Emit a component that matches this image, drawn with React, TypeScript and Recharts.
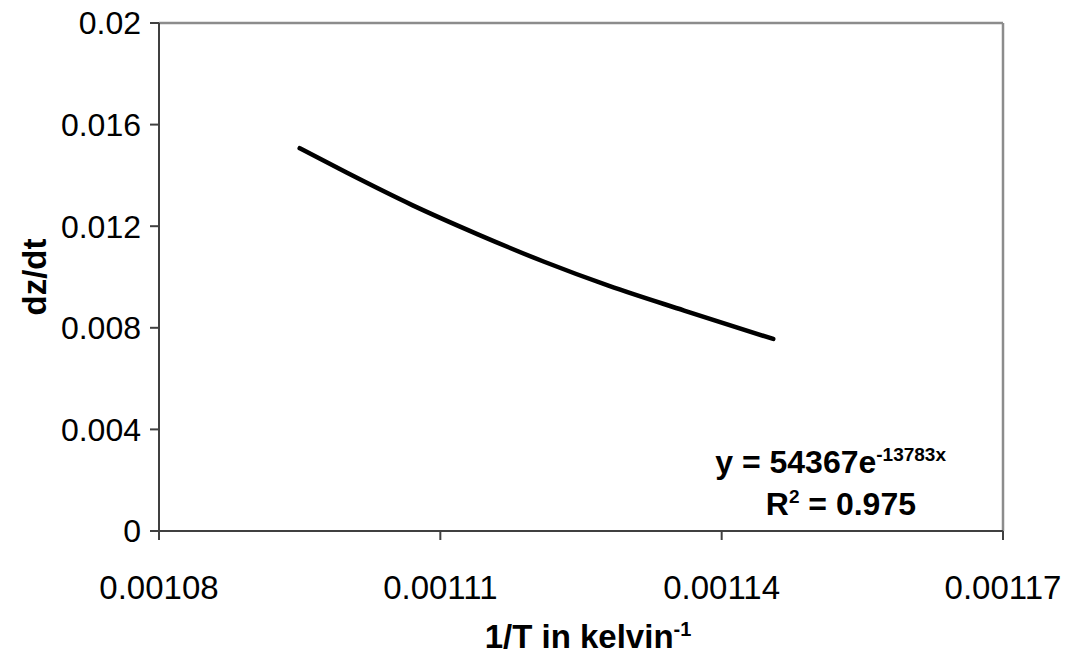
import { LineChart, Line, XAxis, YAxis, ReferenceLine } from 'recharts'

// 1/T (K^-1) and dz/dt
const invT = [0.001095, 0.0011, 0.001107, 0.001114, 0.001121, 0.001128, 0.001136, 0.0011455]
const rate = [0.01507, 0.01411, 0.01283, 0.01168, 0.01061, 0.00965, 0.00868, 0.00756]

const xTicks = [0.00108, 0.00111, 0.00114, 0.00117]
const yTicks = [0, 0.004, 0.008, 0.012, 0.016, 0.02]

const data = invT.map((x, i) => ({ x, y: rate[i] }))

const FONT = '"Liberation Sans", Arial, sans-serif'
const AXIS = '#404040'
const BORDER = '#8c8c8c'

export default function App() {
  return (
    <div style={{ position: 'absolute', left: 0, top: 0, width: 1065, height: 659, background: '#fff', fontFamily: FONT, overflow: 'hidden' }}>
      <LineChart width={1065} height={659} data={data} margin={{ top: 23, right: 62, left: 0, bottom: 68 }}>
        <XAxis
          dataKey="x"
          type="number"
          domain={[0.00108, 0.00117]}
          ticks={xTicks}
          tickFormatter={(v: number) => String(v)}
          height={60}
          stroke={AXIS}
          strokeWidth={2}
          tickSize={9}
          tickMargin={36}
          tick={{ fill: '#000', fontSize: 33, fontFamily: FONT }}
          interval={0}
          allowDataOverflow
        />
        <YAxis
          dataKey="y"
          type="number"
          domain={[0, 0.02]}
          ticks={yTicks}
          tickFormatter={(v: number) => String(v)}
          width={159}
          stroke={AXIS}
          strokeWidth={2}
          tickSize={9}
          tickMargin={9}
          interval={0}
          tick={{ fill: '#000', fontSize: 32, fontFamily: FONT }}
        />
        <ReferenceLine y={0.02} stroke={BORDER} strokeWidth={2.5} />
        <ReferenceLine x={0.00117} stroke={BORDER} strokeWidth={2.5} />
        <Line
          type="monotone"
          dataKey="y"
          stroke="#000"
          strokeWidth={4.5}
          strokeLinecap="round"
          dot={false}
          isAnimationActive={false}
        />
      </LineChart>

      <div style={{ position: 'absolute', left: 35, top: 277, transform: 'translate(-50%, -50%) rotate(-90deg)', fontSize: 33, fontWeight: 'bold', whiteSpace: 'nowrap' }}>
        dz/dt
      </div>
      <div style={{ position: 'absolute', left: 588, top: 637, transform: 'translate(-50%, -50%)', fontSize: 33, fontWeight: 'bold', whiteSpace: 'nowrap', lineHeight: '34px' }}>
        1/T in kelvin<sup style={{ fontSize: 20, lineHeight: 0 }}>-1</sup>
      </div>
      <div style={{ position: 'absolute', right: 1065 - 946, top: 441, textAlign: 'right', fontSize: 32, fontWeight: 'bold', whiteSpace: 'nowrap', lineHeight: '42px' }}>
        <div>y = 54367e<sup style={{ fontSize: 19, lineHeight: 0 }}>-13783x</sup></div>
        <div style={{ paddingRight: 30 }}>R<sup style={{ fontSize: 19, lineHeight: 0 }}>2</sup> = 0.975</div>
      </div>
    </div>
  )
}
